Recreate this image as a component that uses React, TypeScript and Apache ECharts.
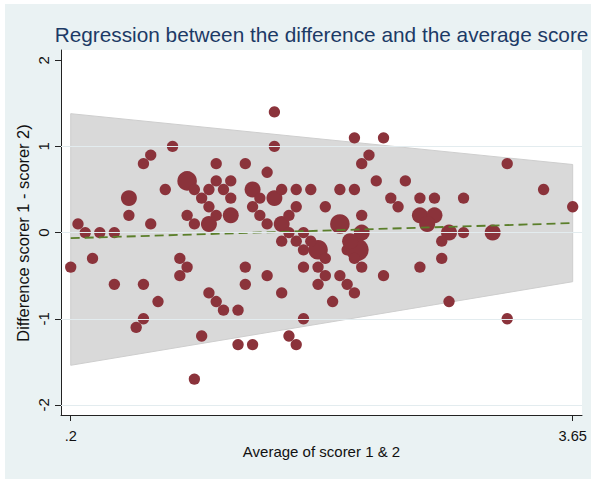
import React, { useEffect, useRef } from 'react';
import * as echarts from 'echarts';

const titleText = 'Regression between the difference and the average score';
const xAxisTitle = 'Average of scorer 1 & 2';
const yAxisTitle = 'Difference scorer 1 - scorer 2)';

const xTickValues = [0.2, 3.65];
const xTickLabels = ['.2', '3.65'];
const yTickValues = [-2, -1, 0, 1, 2];
const gridValues = [-2, -1, 0, 1];

// regression of the difference on the average, and its limits
const fitX = [0.2, 3.65];
const fitY = [-0.065, 0.11];
const bandUpper = [1.38, 0.79];
const bandLower = [-1.54, -0.57];

// observations: average score, difference, frequency weight
const avgScore = [
  0.25, 0.3, 0.4, 0.5, 0.6, 0.6, 0.7, 0.75, 0.75, 0.85, 0.9, 1.0, 1.05, 1.0, 1.05, 1.1, 1.15, 1.15, 1.15, 1.2,
  1.2, 1.2, 1.25, 1.3, 1.3, 1.3, 1.4, 1.45, 1.5, 1.45, 1.5, 1.55, 1.55, 1.6, 1.6, 1.6, 1.65, 1.65, 1.75, 1.85,
  1.75, 1.95, 1.7, 2.15, 2.35, 2.25, 2.2, 2.3, 2.5, 2.05, 2.15, 2.4, 2.45, 2.6, 2.7, 2.2, 2.05, 2.6, 2.7, 2.65,
  2.2, 2.8, 2.9, 3.1, 2.9, 3.2, 3.45, 3.65, 1.7, 1.8,
  0.2, 0.35, 0.5, 0.7, 0.8, 0.7, 0.65, 0.95, 1.0, 0.95, 1.1, 1.05, 1.15, 1.2, 1.25, 1.35, 1.4, 1.4, 1.55, 1.35,
  1.45, 1.65, 1.65, 1.75, 1.7, 1.75, 1.8, 1.8, 1.9, 1.95, 1.8, 1.9, 1.95, 1.9, 2.0, 2.05, 2.1, 2.15, 2.1, 2.17,
  2.15, 2.2, 2.35, 2.6, 2.75, 2.75, 2.8, 3.2, 1.85, 2.12,
];
const diffScore = [
  0.1, 0, 0, 0, 0.4, 0.2, 0.8, 0.9, 0.1, 0.5, 1.0, 0.6, 0.5, 0.2, 0.1, 0.4, 0.5, 0.3, 0.1, 0.8,
  0.6, 0.2, 0.5, 0.6, 0.4, 0.2, 0.8, 0.5, 0.4, 0.3, 0.2, 0.7, 0.1, 1.4, 1.0, 0.4, 0.5, 0.1, 0.5, 0.5,
  0.3, 0.3, 0.2, 1.1, 1.1, 0.9, 0.8, 0.6, 0.6, 0.5, 0.5, 0.4, 0.3, 0.4, 0.4, 0.2, 0.1, 0.2, 0.2, 0.1,
  0, 0, 0, 0, 0.4, 0.8, 0.5, 0.3, 0, 0,
  -0.4, -0.3, -0.6, -0.6, -0.8, -1.0, -1.1, -0.3, -0.4, -0.5, -1.2, -1.7, -0.7, -0.8, -0.9, -0.9, -0.4, -0.6, -0.5, -1.3,
  -1.3, -0.7, -0.1, -0.1, -1.2, -1.3, -1.0, -0.2, -0.2, -0.3, -0.4, -0.4, -0.5, -0.6, -0.8, -0.5, -0.6, -0.7, -0.2, -0.2,
  -0.3, -0.4, -0.5, -0.4, -0.3, -0.1, -0.8, -1.0, -0.1, -0.1,
];
const weight = [
  1, 1, 1, 1, 2, 1, 1, 1, 1, 1, 1, 3, 1, 1, 1, 1, 1, 1, 2, 1,
  1, 1, 1, 1, 1, 2, 1, 2, 1, 1, 1, 1, 1, 1, 1, 2, 1, 2, 1, 1,
  1, 1, 1, 1, 1, 1, 1, 1, 1, 1, 1, 1, 1, 1, 1, 1, 3, 2, 2, 2,
  2, 2, 1, 2, 1, 1, 1, 1, 1, 1,
  1, 1, 1, 1, 1, 1, 1, 1, 1, 1, 1, 1, 1, 1, 1, 1, 1, 1, 1, 1,
  1, 1, 1, 1, 1, 1, 1, 1, 3, 1, 1, 1, 1, 1, 1, 1, 1, 1, 1, 4,
  1, 1, 1, 1, 1, 1, 1, 1, 1, 2,
];

const FONT = 'Liberation Sans, Arial, Helvetica, sans-serif';
const MARKER = '#8B333B';

export default function App() {
  const ref = useRef<HTMLDivElement>(null);
  useEffect(() => {
    if (!ref.current) return;
    const chart = echarts.init(ref.current, undefined, { renderer: 'svg' });
    const points = avgScore.map((x, i) => [x, diffScore[i], weight[i]]);
    const option: any = {
      animation: false,
      backgroundColor: '#EAF2F3',
      textStyle: { fontFamily: FONT },
      graphic: [
        { type: 'rect', shape: { x: 0, y: 0, width: 591, height: 4 }, style: { fill: '#ffffff' }, silent: true },
        { type: 'rect', shape: { x: 0, y: 0, width: 5, height: 479 }, style: { fill: '#ffffff' }, silent: true },
        {
          type: 'text', x: 321.5, y: 34,
          style: { text: titleText, font: `20.8px ${FONT}`, fill: '#1C3A66', align: 'center', verticalAlign: 'middle', textAlign: 'center', textVerticalAlign: 'middle' },
        },
        {
          type: 'text', x: 321.5, y: 451,
          style: { text: xAxisTitle, font: `15px ${FONT}`, fill: '#111', align: 'center', verticalAlign: 'middle', textAlign: 'center', textVerticalAlign: 'middle' },
        },
        {
          type: 'text', x: 23, y: 233, rotation: Math.PI / 2,
          style: { text: yAxisTitle, font: `16.4px ${FONT}`, fill: '#111', align: 'center', verticalAlign: 'middle', textAlign: 'center', textVerticalAlign: 'middle' },
        },
      ],
      grid: { left: 61, top: 50, width: 521, height: 365, show: true, backgroundColor: '#ffffff', borderWidth: 0 },
      xAxis: {
        type: 'value', min: 0.1333, max: 3.714,
        axisLine: { show: true, onZero: false, lineStyle: { color: '#222', width: 1 } },
        axisTick: { show: true, customValues: xTickValues, length: 6, lineStyle: { color: '#222' } },
        axisLabel: {
          customValues: xTickValues, margin: 13, fontSize: 14.6, color: '#111', fontFamily: FONT,
          formatter: (v: number) => {
            const i = xTickValues.findIndex((t) => Math.abs(t - v) < 1e-6);
            return i >= 0 ? xTickLabels[i] : '';
          },
        },
        splitLine: { show: false },
      },
      yAxis: {
        type: 'value', min: -2.117, max: 2.119,
        axisLine: { show: true, onZero: false, lineStyle: { color: '#222', width: 1 } },
        axisTick: { show: true, customValues: yTickValues, length: 6, lineStyle: { color: '#222' } },
        axisLabel: { customValues: yTickValues, rotate: 90, margin: 10, fontSize: 15, color: '#111', fontFamily: FONT },
        splitLine: { show: false },
      },
      series: [
        {
          type: 'line', data: [], z: 1, silent: true,
          markLine: {
            silent: true, symbol: ['none', 'none'], label: { show: false },
            lineStyle: { color: '#E3ECEF', type: 'solid', width: 1 },
            data: gridValues.map((v) => ({ yAxis: v })),
          },
        },
        {
          type: 'custom', z: 2, silent: true,
          data: [[fitX[0], bandLower[0]]],
          renderItem: (_p: any, api: any) => {
            const pts = [
              api.coord([fitX[0], bandLower[0]]),
              api.coord([fitX[1], bandLower[1]]),
              api.coord([fitX[1], bandUpper[1]]),
              api.coord([fitX[0], bandUpper[0]]),
            ];
            return { type: 'polygon', shape: { points: pts }, style: { fill: '#D9D9D9', stroke: '#CECECE', lineWidth: 1 } };
          },
        },
        {
          type: 'scatter', z: 3, data: points,
          symbol: 'circle',
          symbolSize: (v: number[]) => 11.3 * Math.sqrt(v[2]),
          itemStyle: { color: MARKER, opacity: 1 },
        },
        {
          type: 'line', z: 4, silent: true,
          data: fitX.map((x, i) => [x, fitY[i]]),
          showSymbol: false, symbol: 'none',
          lineStyle: { color: '#5B7F2B', width: 1.8, type: [9, 5] },
        },
      ],
    };
    chart.setOption(option);
    return () => chart.dispose();
  }, []);
  return <div ref={ref} style={{ position: 'fixed', left: 0, top: 0, width: 591, height: 479 }} />;
}
